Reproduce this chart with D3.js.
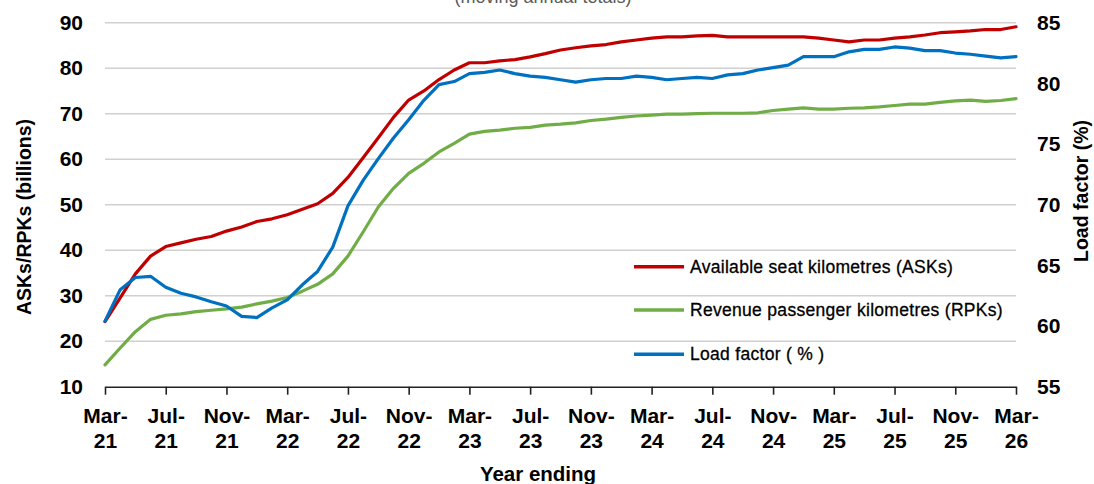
<!DOCTYPE html>
<html>
<head>
<meta charset="utf-8">
<script src="https://cdn.jsdelivr.net/npm/d3@7"></script>
<style>
  html, body { margin: 0; padding: 0; background: #fff; }
  svg { display: block; font-family: "Liberation Sans", Arial, sans-serif; }
</style>
</head>
<body>
<svg id="chart" width="1094" height="484"></svg>
<script>
// ---- Data (monthly, year ending Mar-21 .. Mar-26) ----
const tickLabels = ["Mar-21","Jul-21","Nov-21","Mar-22","Jul-22","Nov-22","Mar-23","Jul-23",
                    "Nov-23","Mar-24","Jul-24","Nov-24","Mar-25","Jul-25","Nov-25","Mar-26"];
const tickEvery = 4;

const asks = [24.3,29.5,34.8,38.7,40.8,41.6,42.4,43.0,44.2,45.1,46.3,46.9,47.8,49.0,50.2,52.5,
              56.0,60.3,64.7,69.2,73.0,75.0,77.5,79.6,81.2,81.2,81.6,81.9,82.5,83.2,84.0,84.5,
              84.9,85.2,85.8,86.2,86.6,86.9,86.9,87.1,87.2,86.9,86.9,86.9,86.9,86.9,86.9,86.6,
              86.2,85.8,86.2,86.2,86.6,86.9,87.3,87.8,88.0,88.2,88.5,88.5,89.1];
const rpks = [14.8,18.5,22.1,24.8,25.7,26.0,26.5,26.8,27.1,27.5,28.2,28.8,29.6,31.0,32.5,34.8,
              38.7,44.0,49.5,53.6,56.9,59.1,61.6,63.5,65.5,66.1,66.4,66.8,67.0,67.5,67.7,68.0,
              68.5,68.8,69.2,69.5,69.7,69.9,69.9,70.0,70.1,70.1,70.1,70.2,70.7,71.0,71.3,71.0,
              71.0,71.2,71.3,71.5,71.8,72.1,72.1,72.5,72.8,73.0,72.7,72.9,73.3];
const loadFactor = [60.4,63.0,64.0,64.1,63.2,62.7,62.4,62.0,61.65,60.8,60.7,61.5,62.15,63.4,64.5,66.5,
              69.9,72.0,73.8,75.5,77.0,78.6,79.9,80.15,80.8,80.9,81.1,80.8,80.6,80.5,80.3,80.1,
              80.3,80.4,80.4,80.6,80.5,80.3,80.4,80.5,80.4,80.7,80.8,81.1,81.3,81.5,82.2,82.2,
              82.2,82.6,82.8,82.8,83.0,82.9,82.7,82.7,82.5,82.4,82.25,82.1,82.2];

const leftTicks = [10,20,30,40,50,60,70,80,90];
const rightTicks = [55,60,65,70,75,80,85];

const seriesNames = ["Available seat kilometres (ASKs)","Revenue passenger kilometres (RPKs)","Load factor ( % )"];
const seriesColors = ["#C00000","#70AD47","#0070C0"];

// ---- Layout ----
const svg = d3.select("#chart");
const plot = { left: 105, right: 1016, top: 22.7, bottom: 386.7 };

const x = d3.scaleLinear().domain([0, asks.length - 1]).range([plot.left, plot.right]);
const yL = d3.scaleLinear().domain([10, 90]).range([plot.bottom, plot.top]);
const yR = d3.scaleLinear().domain([55, 85]).range([plot.bottom, plot.top]);

// Title (partially cut off at top, as in the reference)
svg.append("text")
  .attr("x", 543).attr("y", 3)
  .attr("text-anchor", "middle")
  .attr("font-size", 18).attr("fill", "#595959")
  .text("(moving annual totals)");

// Gridlines
svg.append("g")
  .selectAll("line")
  .data(leftTicks.filter(d => d > 10))
  .join("line")
  .attr("x1", plot.left).attr("x2", plot.right)
  .attr("y1", d => yL(d)).attr("y2", d => yL(d))
  .attr("stroke", "#D0D0D0").attr("stroke-width", 1.5);

// Left axis
const gL = svg.append("g")
  .attr("transform", `translate(${plot.left},0)`)
  .call(d3.axisLeft(yL).tickValues(leftTicks).tickSize(0).tickPadding(22));
gL.select(".domain").remove();
gL.selectAll("text")
  .attr("font-family", "Liberation Sans, Arial, sans-serif")
  .attr("font-size", 21).attr("font-weight", "bold").attr("fill", "#000");

// Right axis
const gR = svg.append("g")
  .attr("transform", `translate(${plot.right},0)`)
  .call(d3.axisRight(yR).tickValues(rightTicks).tickSize(0).tickPadding(21));
gR.select(".domain").remove();
gR.selectAll("text")
  .attr("font-family", "Liberation Sans, Arial, sans-serif")
  .attr("font-size", 21).attr("font-weight", "bold").attr("fill", "#000");

// Bottom axis
const tickIdx = tickLabels.map((_, i) => i * tickEvery);
const gB = svg.append("g")
  .attr("transform", `translate(0,${plot.bottom})`)
  .call(d3.axisBottom(x).tickValues(tickIdx).tickSize(8).tickSizeOuter(0).tickFormat(() => ""));
gB.select(".domain").attr("stroke", "#222").attr("stroke-width", 1.6);
gB.selectAll(".tick line").attr("stroke", "#222").attr("stroke-width", 1.6);
gB.selectAll(".tick text").remove();
gB.selectAll(".tick").each(function(d, i) {
  const parts = tickLabels[i].split("-");
  const t = d3.select(this).append("text")
    .attr("text-anchor", "middle")
    .attr("font-family", "Liberation Sans, Arial, sans-serif")
    .attr("font-size", 21).attr("font-weight", "bold").attr("fill", "#000");
  t.append("tspan").attr("x", 0).attr("y", 36).text(parts[0] + "-");
  t.append("tspan").attr("x", 0).attr("y", 61.5).text(parts[1]);
});

// Axis titles
svg.append("text")
  .attr("transform", "translate(31,217) rotate(-90)")
  .attr("text-anchor", "middle")
  .attr("font-size", 19.5).attr("font-weight", "bold").attr("fill", "#000")
  .text("ASKs/RPKs (billions)");
svg.append("text")
  .attr("transform", "translate(1088,191) rotate(-90)")
  .attr("text-anchor", "middle")
  .attr("font-size", 19.5).attr("font-weight", "bold").attr("fill", "#000")
  .text("Load factor (%)");
svg.append("text")
  .attr("x", 538).attr("y", 481)
  .attr("text-anchor", "middle")
  .attr("font-size", 20.5).attr("font-weight", "bold").attr("fill", "#000")
  .text("Year ending");

// Lines
const lineL = d3.line().x((d, i) => x(i)).y(d => yL(d));
const lineR = d3.line().x((d, i) => x(i)).y(d => yR(d));
const series = [
  { values: asks, gen: lineL, color: seriesColors[0] },
  { values: rpks, gen: lineL, color: seriesColors[1] },
  { values: loadFactor, gen: lineR, color: seriesColors[2] }
];
svg.append("g").selectAll("path")
  .data(series)
  .join("path")
  .attr("d", s => s.gen(s.values))
  .attr("fill", "none")
  .attr("stroke", s => s.color)
  .attr("stroke-width", 3.2)
  .attr("stroke-linejoin", "round")
  .attr("stroke-linecap", "round");

// Legend
const legendY = [266.7, 310, 354.3];
const lg = svg.append("g");
seriesNames.forEach((name, i) => {
  lg.append("line")
    .attr("x1", 634).attr("x2", 684)
    .attr("y1", legendY[i]).attr("y2", legendY[i])
    .attr("stroke", seriesColors[i]).attr("stroke-width", 3.5);
  lg.append("text")
    .attr("x", 690).attr("y", legendY[i] + 6)
    .attr("font-size", 17.5).attr("fill", "#000")
    .attr("stroke", "#000").attr("stroke-width", 0.3)
    .attr("letter-spacing", 0.3)
    .text(name);
});
</script>
</body>
</html>
